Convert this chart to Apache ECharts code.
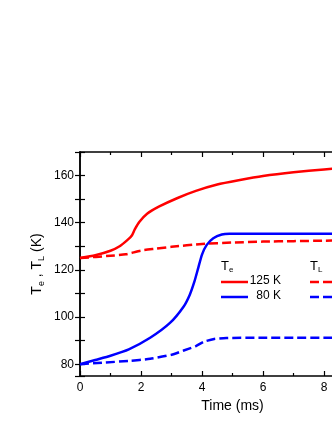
<!DOCTYPE html>
<html>
<head>
<meta charset="utf-8">
<script src="https://cdn.jsdelivr.net/npm/echarts@6/dist/echarts.min.js"></script>
<style>
  html, body { margin: 0; padding: 0; background: #fff; }
  #chart { width: 332px; height: 430px; }
</style>
</head>
<body>
<div id="chart"></div>
<script>
// time (ms) / temperature (K) pairs
const te125 = [[0, 125], [0.5, 126.2], [1.0, 128.1], [1.3, 130], [1.55, 132.6], [1.7, 134.6], [1.8, 137.3],
  [1.95, 140.4], [2.2, 143.8], [2.6, 146.9], [3.2, 150.5], [3.8, 153.5], [4.5, 156.2], [5.2, 158],
  [6, 159.8], [7, 161.4], [8, 162.6], [9, 163.6], [10, 164.5]]
const tl125 = [[0, 125], [1, 126], [1.5, 126.6], [2, 128.2], [2.5, 129], [3, 129.8], [4, 131],
  [5, 131.6], [6, 132], [7, 132.2], [8, 132.4], [10, 132.6]]
const te80 = [[0, 80], [0.5, 81.8], [1, 83.6], [1.6, 86.3], [2.3, 91.2], [2.95, 97.5], [3.4, 104.5],
  [3.6, 109.5], [3.75, 115], [3.88, 121], [4.0, 126.5], [4.15, 130.5], [4.37, 133.4], [4.65, 135],
  [4.9, 135.3], [6, 135.3], [8, 135.3], [10, 135.3]]
const tl80 = [[0, 80], [0.8, 80.7], [1.6, 81.4], [2.3, 82.3], [3, 84], [3.4, 85.8], [3.8, 87.7],
  [4.05, 89.5], [4.4, 90.7], [4.8, 91.1], [6, 91.2], [10, 91.2]]
const legendLabels = ['125 K', '80 K']

const font = 'Liberation Sans, Arial, sans-serif'
const chart = echarts.init(document.getElementById('chart'))

function axisCommon(show) {
  return {
    axisLine: { show: true, lineStyle: { color: '#000', width: 1.5 } },
    axisTick: { show: true, inside: true, length: 5, lineStyle: { color: '#000', width: 1.2 } },
    minorTick: { show: true, splitNumber: 2, length: 3, lineStyle: { color: '#000', width: 1.2 } },
    splitLine: { show: false },
    axisLabel: { show: show, color: '#000', fontFamily: font, fontSize: 12 }
  }
}

chart.setOption({
  animation: false,
  grid: { left: 80, top: 152, width: 305, height: 224, outerBoundsMode: 'none', containLabel: false },
  xAxis: [
    Object.assign(axisCommon(true), {
      type: 'value', min: 0, max: 10, interval: 2, position: 'bottom',
      name: 'Time (ms)', nameLocation: 'middle', nameGap: 20,
      nameTextStyle: { color: '#000', fontFamily: font, fontSize: 14 },
      axisLabel: { color: '#000', fontFamily: font, fontSize: 12, margin: 6 }
    }),
    Object.assign(axisCommon(false), {
      type: 'value', min: 0, max: 10, interval: 2, position: 'top'
    })
  ],
  yAxis: [
    Object.assign(axisCommon(true), {
      type: 'value', min: 75, max: 170, splitNumber: 10, position: 'left',
      minorTick: { show: false },
      name: 'T{s|e} , T{s|L} (K)', nameLocation: 'middle', nameGap: 34, nameRotate: 90,
      nameMoveOverlap: false,
      nameTextStyle: {
        color: '#000', fontFamily: font, fontSize: 14,
        rich: { s: { fontSize: 9, fontFamily: font, color: '#000', padding: [8, 0, 0, 0] } }
      },
      axisLabel: {
        color: '#000', fontFamily: font, fontSize: 12, margin: 6,
        formatter: v => (v % 20 === 0 ? String(v) : '')
      }
    }),
    Object.assign(axisCommon(false), {
      type: 'value', min: 75, max: 170, splitNumber: 10, position: 'right',
      minorTick: { show: false }
    })
  ],
  series: [
    { name: 'Te 125 K', type: 'line', data: te125, smooth: 0.2, symbol: 'none',
      lineStyle: { color: '#ff0000', width: 2.5 } },
    { name: 'TL 125 K', type: 'line', data: tl125, smooth: 0.2, symbol: 'none',
      lineStyle: { color: '#ff0000', width: 2.5, type: [9, 4] } },
    { name: 'Te 80 K', type: 'line', data: te80, smooth: 0.2, symbol: 'none',
      lineStyle: { color: '#0000ff', width: 2.5 } },
    { name: 'TL 80 K', type: 'line', data: tl80, smooth: 0.2, symbol: 'none',
      lineStyle: { color: '#0000ff', width: 2.5, type: [9, 4] } }
  ],
  graphic: [
    { type: 'text', left: 221, top: 260, style: { text: 'T{s|e}', fill: '#000', font: '13px ' + font,
      rich: { s: { fontSize: 8, fontFamily: font, fill: '#000', padding: [7, 0, 0, 0] } } } },
    { type: 'text', left: 310, top: 260, style: { text: 'T{s|L}', fill: '#000', font: '13px ' + font,
      rich: { s: { fontSize: 8, fontFamily: font, fill: '#000', padding: [7, 0, 0, 0] } } } },
    { type: 'line', shape: { x1: 221, y1: 282, x2: 248, y2: 282 }, style: { stroke: '#ff0000', lineWidth: 2.5 } },
    { type: 'line', shape: { x1: 221, y1: 297, x2: 248, y2: 297 }, style: { stroke: '#0000ff', lineWidth: 2.5 } },
    { type: 'line', shape: { x1: 310, y1: 282, x2: 340, y2: 282 }, style: { stroke: '#ff0000', lineWidth: 2.5, lineDash: [9, 4] } },
    { type: 'line', shape: { x1: 310, y1: 297, x2: 340, y2: 297 }, style: { stroke: '#0000ff', lineWidth: 2.5, lineDash: [9, 4] } },
    { type: 'text', right: 51, top: 275, style: { text: legendLabels[0], fill: '#000', font: '12px ' + font } },
    { type: 'text', right: 51, top: 290, style: { text: legendLabels[1], fill: '#000', font: '12px ' + font } }
  ]
})
</script>
</body>
</html>
